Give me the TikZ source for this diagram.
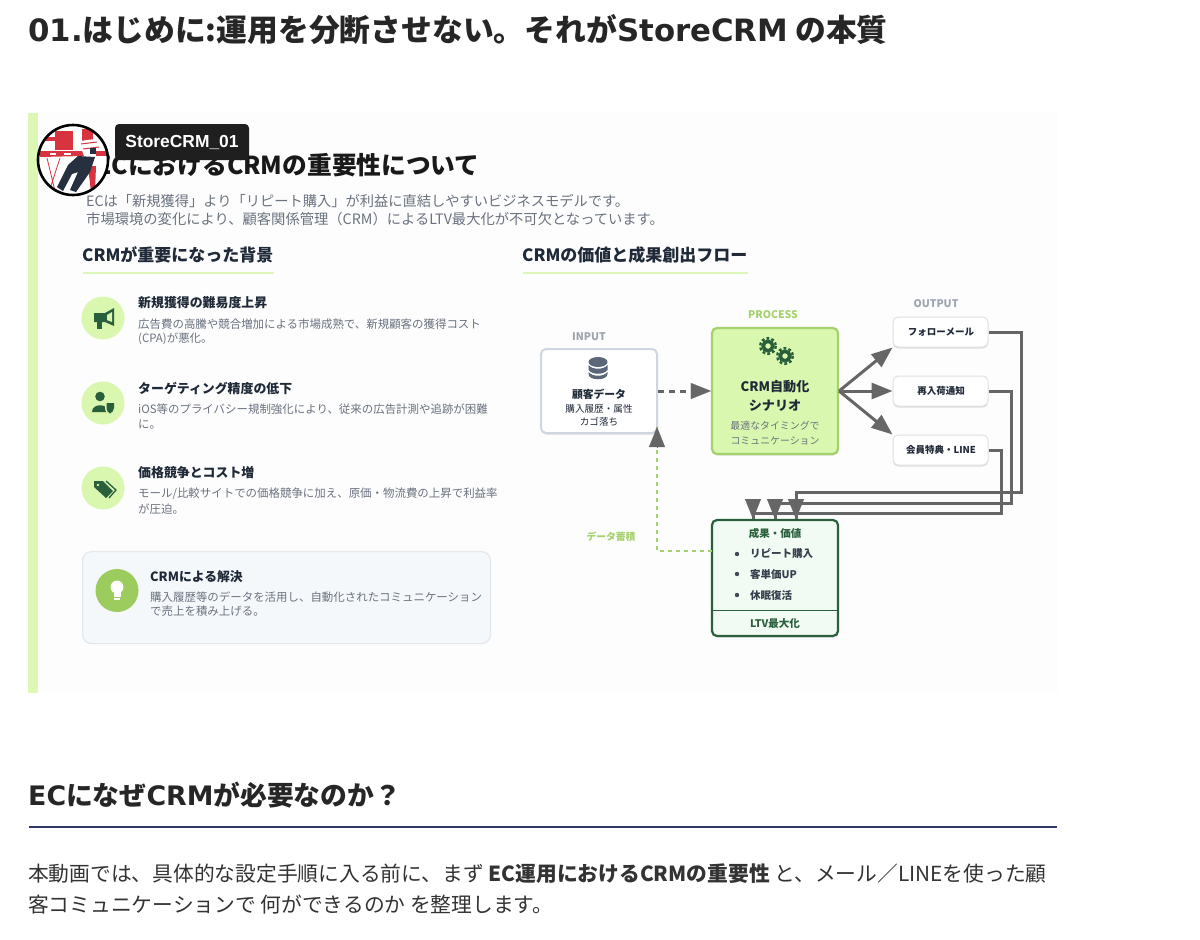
\documentclass[tikz,border=0pt]{standalone}
\usepackage{fontspec}
\setmainfont{Noto Sans CJK JP}
\newfontfamily\dv{DejaVu Sans}
\newfontfamily\ls{Liberation Sans}
\usetikzlibrary{arrows.meta,shadows,calc}
\definecolor{lime}{HTML}{DDF7B4}
\definecolor{limeb}{HTML}{A5D16C}
\definecolor{limef}{HTML}{D9F7AE}
\definecolor{dgreen}{HTML}{2A5F3C}
\definecolor{ink}{HTML}{1F2937}
\definecolor{mut}{HTML}{6B7280}
\definecolor{lab}{HTML}{9CA3AF}
\definecolor{conn}{HTML}{666666}
\definecolor{navy}{HTML}{2D3768}
\definecolor{avred}{HTML}{D8343F}
\definecolor{avdark}{HTML}{27303F}
\definecolor{slate}{HTML}{5B6678}
\definecolor{inb}{HTML}{CFD6E0}
\definecolor{solf}{HTML}{F5F8FA}
\definecolor{solb}{HTML}{E3E8EC}
\definecolor{resf}{HTML}{F1FBF3}
\definecolor{panelf}{HTML}{FCFDFC}
\definecolor{bulbf}{HTML}{9CCB5E}
\tikzset{
 txt/.style={inner sep=0pt,anchor=west,text=#1},
 txt/.default=ink,
 ctr/.style={inner sep=0pt,anchor=center,text=#1,align=center},
 ctr/.default=ink,
 iconc/.style={circle,fill=limef,minimum size=43pt,inner sep=0pt},
 softsh/.style={drop shadow={shadow xshift=0pt,shadow yshift=-1.5pt,opacity=0.12,fill=black}},
 flowbox/.style={rectangle,rounded corners=5pt,inner sep=0pt,softsh},
 outbox/.style={flowbox,draw=black!12,line width=1pt,fill=white,minimum width=95pt,minimum height=30pt},
 flow/.style={draw=conn,line width=3pt,-{Triangle[length=21pt,width=16pt]}},
 head/.style={conn,-{Triangle[length=20pt,width=16pt]},line width=.1pt},
 wire/.style={conn,line width=3pt},
 ul/.style={draw=lime,line width=2.4pt},
}
\begin{document}
\begin{tikzpicture}[x=1pt,y=-1pt]
\useasboundingbox (0,0) rectangle (1200,940);
\fill[white] (0,0) rectangle (1200,940);
% ---- page headings
\node[txt=black!85,font=\bfseries\fontsize{30.8}{33}\selectfont] (h1) at (28,30) {{\dv 01.}はじめに:運用を分断させない。それが{\dv StoreCRM} の本質};
\node[fill=panelf,minimum width=1030pt,minimum height=580pt,inner sep=0pt,anchor=north west] (panel) at (28,113) {};
\node[fill=lime,minimum width=10pt,minimum height=580pt,inner sep=0pt,anchor=north west] (strip) at (28,113) {};
% ---- slide title
\node[txt=black!90,font=\bfseries\fontsize{24.7}{30}\selectfont] (title) at (96,165) {ECにおけるCRMの重要性について};
\node[txt=mut,font=\fontsize{14.25}{16}\selectfont] (s1) at (86,201) {ECは「新規獲得」より「リピート購入」が利益に直結しやすいビジネスモデルです。};
\node[txt=mut,font=\fontsize{14.3}{16}\selectfont] (s2) at (86,219) {市場環境の変化により、顧客関係管理（CRM）によるLTV最大化が不可欠となっています。};
% ---- avatar
\begin{scope}
\clip (73,160) circle (35);
\fill[white] (73,160) circle (35);
\fill[avred] (55,131) rectangle (73,150);
\fill[avred] (44,137) rectangle (55,141);
\fill[avred] (40,151) -- (82,151) -- (84,156) -- (40,157) -- cycle;
\fill[white] (50,152.5) rectangle (56,155);\fill[white] (64,152.5) rectangle (71,155);
\fill[avred] (82,129) rectangle (93,141);
\fill[white] (80,141) -- (95,139) -- (100,153) -- (84,155) -- cycle;
\draw[avred,line width=1pt] (81,144) -- (97,142) (83,149) -- (99,147);
\fill[avdark] (90,148) rectangle (96,154);
\fill[avred] (96,151) rectangle (110,156);
\draw[avred,line width=.8pt] (47,158) -- (56,195) (60,158) -- (48,195);
\fill[avred] (88,166) -- (96,166) -- (95,192) -- (91,192) -- cycle;
\fill[avdark] (78,156) -- (95,157) -- (90,172) -- (76,192) -- (70,190) -- (78,172) -- (72,174) -- (63,191) -- (57,187) -- (68,165) -- cycle;
\end{scope}
\node[circle,draw=black,line width=2.6pt,minimum size=70pt,inner sep=0pt] (avatar) at (73,160) {};
\node[rectangle,rounded corners=4pt,fill=black!88,minimum width=134pt,minimum height=36pt,inner sep=0pt,text=white,font=\ls\bfseries\fontsize{17.4}{18}\selectfont] (tag) at (182,142) {StoreCRM\_01};
% ---- section heads
\node[txt,font=\bfseries\fontsize{17}{20}\selectfont] (sa) at (82,255) {CRMが重要になった背景};
\node[inner sep=0pt] (ula) at (82,273) {};\node[inner sep=0pt] (ulb) at (275,273) {};
\draw[ul] (ula) -- (ulb);
\node[txt,font=\bfseries\fontsize{17}{20}\selectfont] (sb) at (522,255) {CRMの価値と成果創出フロー};
\node[inner sep=0pt] (ulc) at (522,273) {};\node[inner sep=0pt] (uld) at (749,273) {};
\draw[ul] (ulc) -- (uld);
% ---- left items
\node[iconc] (i1) at (103,318) {};
\node[iconc] (i2) at (103,403) {};
\node[iconc] (i3) at (103,488) {};
\node[txt,font=\bfseries\fontsize{12.9}{14}\selectfont] (t1) at (138,303) {新規獲得の難易度上昇};
\node[txt=mut,font=\fontsize{11.45}{14}\selectfont] (d1a) at (138,324) {広告費の高騰や競合増加による市場成熟で、新規顧客の獲得コスト};
\node[txt=mut,font=\fontsize{11.45}{14}\selectfont] (d1b) at (138,339) {(CPA)が悪化。};
\node[txt,font=\bfseries\fontsize{12.9}{14}\selectfont] (t2) at (138,388) {ターゲティング精度の低下};
\node[txt=mut,font=\fontsize{11.45}{14}\selectfont] (d2a) at (138,409) {iOS等のプライバシー規制強化により、従来の広告計測や追跡が困難};
\node[txt=mut,font=\fontsize{11.45}{14}\selectfont] (d2b) at (138,424) {に。};
\node[txt,font=\bfseries\fontsize{12.9}{14}\selectfont] (t3) at (138,473) {価格競争とコスト増};
\node[txt=mut,font=\fontsize{11.45}{14}\selectfont] (d3a) at (138,494) {モール/比較サイトでの価格競争に加え、原価・物流費の上昇で利益率};
\node[txt=mut,font=\fontsize{11.45}{14}\selectfont] (d3b) at (138,509) {が圧迫。};
% megaphone
\fill[dgreen] (94,313) -- (105,313) -- (114,308) -- (114,326) -- (105,322) -- (94,322) -- cycle;
\fill[dgreen] (97,322) rectangle (102,329);
\fill[limef] (107,315) -- (112,312) -- (112,322) -- (107,320) -- cycle;
% user shield
\fill[dgreen] (100,396.5) circle (4.8);
\fill[dgreen] (92,412) .. controls (92,403) and (108,403) .. (109,412) -- cycle;
\fill[limef] (105,402) -- (115,402) -- (115,408) .. controls (115,412) and (112,414) .. (110,415) .. controls (108,414) and (105,412) .. (105,408) -- cycle;
\fill[dgreen] (106.5,403) -- (114,403) -- (114,408) .. controls (114,411) and (112,412) .. (110,413.5) .. controls (108,412) and (106.5,411) .. (106.5,408) -- cycle;
% tags
\fill[dgreen] (94,481) -- (103,481) -- (113,491) -- (106,498) -- (94,487) -- cycle;
\draw[dgreen,line width=1.3pt] (106,481) -- (116,490) -- (109,498);
\fill[limef] (98,485) circle (1.4);
% ---- solution box
\node[rectangle,rounded corners=9pt,draw=solb,line width=1.2pt,fill=solf,minimum width=408pt,minimum height=92pt,inner sep=0pt,anchor=north west] (sol) at (82,551) {};
\node[circle,fill=bulbf,minimum size=43pt,inner sep=0pt] (bulb) at (117,590.5) {};
\fill[white] (117,587) circle (6.5);
\fill[white] (113.5,591) rectangle (120.5,597);
\fill[white] (114,598) rectangle (120,600);
\node[txt,font=\bfseries\fontsize{12.8}{14}\selectfont] (st) at (150,577) {CRMによる解決};
\node[txt=mut,font=\fontsize{11.45}{14}\selectfont] (sd1) at (150,597) {購入履歴等のデータを活用し、自動化されたコミュニケーション};
\node[txt=mut,font=\fontsize{11.45}{14}\selectfont] (sd2) at (150,611) {で売上を積み上げる。};
% ---- flow boxes
\node[flowbox,draw=inb,line width=2pt,fill=white,minimum width=116pt,minimum height=84pt] (input) at (599,391) {};
\node[flowbox,draw=limeb,line width=2.2pt,fill=limef,minimum width=126pt,minimum height=126pt] (proc) at (775,391) {};
\node[outbox] (o1) at (940.5,332) {};
\node[outbox] (o2) at (940.5,391) {};
\node[outbox] (o3) at (940.5,450) {};
\node[flowbox,draw=dgreen,line width=2.2pt,fill=resf,minimum width=126pt,minimum height=116pt] (res) at (775,578) {};
\node[inner sep=0pt] (dl) at (712,610) {};\node[inner sep=0pt] (dr) at (838,610) {};
\draw[dgreen,line width=1pt] (dl) -- (dr);
% flow labels
\node[ctr=lab,font=\bfseries\fontsize{10.5}{12}\selectfont] (li) at (589,337) {INPUT};
\node[ctr=limeb,font=\bfseries\fontsize{10.5}{12}\selectfont] (lp) at (773,315) {PROCESS};
\node[ctr=lab,font=\bfseries\fontsize{10.5}{12}\selectfont] (lo) at (936,304) {OUTPUT};
% input contents
\fill[slate] (598,362) ellipse (9.5 and 5);
\fill[slate] (588.5,365) -- (588.5,370) .. controls (592,375) and (604,375) .. (607.5,370) -- (607.5,365) .. controls (604,370) and (592,370) .. (588.5,365) -- cycle;
\fill[slate] (588.5,372) -- (588.5,374) .. controls (588.5,381) and (607.5,381) .. (607.5,374) -- (607.5,372) .. controls (604,377) and (592,377) .. (588.5,372) -- cycle;
\node[ctr,font=\bfseries\fontsize{10.8}{13}\selectfont] (it) at (599,394) {顧客データ};
\node[ctr,font=\fontsize{9.6}{12}\selectfont] (id1) at (599,409) {購入履歴・属性};
\node[ctr,font=\fontsize{9.6}{12}\selectfont] (id2) at (599,422) {カゴ落ち};
% gears
\foreach \gx/\gy/\gr in {768/346/6.2,785/356/6.2}{
 \draw[dgreen,line width=2.4pt,dash pattern=on 2.8pt off 2.2pt] (\gx,\gy) circle (\gr+1.6);
 \draw[dgreen,line width=3.6pt] (\gx,\gy) circle (\gr-1.4);
}
\node[ctr,font=\bfseries\fontsize{13.1}{16}\selectfont] (pt1) at (775,387) {CRM自動化};
\node[ctr,font=\bfseries\fontsize{13.1}{16}\selectfont] (pt2) at (775,406) {シナリオ};
\node[ctr=mut,font=\fontsize{9.9}{12}\selectfont] (pd1) at (775,426) {最適なタイミングで};
\node[ctr=mut,font=\fontsize{9.9}{12}\selectfont] (pd2) at (775,441) {コミュニケーション};
% outputs
\node[ctr,font=\bfseries\fontsize{9.5}{12}\selectfont] (ot1) at (941,332) {フォローメール};
\node[ctr,font=\bfseries\fontsize{9.5}{12}\selectfont] (ot2) at (941,391) {再入荷通知};
\node[ctr,font=\bfseries\fontsize{9.5}{12}\selectfont] (ot3) at (941,450) {会員特典・LINE};
% result
\node[ctr=dgreen,font=\bfseries\fontsize{10.5}{12}\selectfont] (rt) at (775,533) {成果・価値};
\foreach \yy/\nm/\tx in {554/r1/リピート購入,574/r2/客単価UP,595/r3/休眠復活}{
 \fill[ink!85] (737,\yy) circle (2.2);
 \node[txt=ink!90,font=\bfseries\fontsize{10.5}{12}\selectfont] (\nm) at (750,\yy) {\tx};
}
\node[ctr=dgreen,font=\bfseries\fontsize{10.5}{12}\selectfont] (rl) at (775,624) {LTV最大化};
% ---- connectors
\coordinate (fb) at (712,551);
\coordinate (fc) at (657,551);
\coordinate (fd) at (657,427);
\draw[draw=limeb,line width=2.5pt,dash pattern=on 4pt off 4pt] (fb) -- (fc) -- (fd);
\node[ctr=limeb,font=\bfseries\fontsize{9.8}{12}\selectfont] (fl) at (611,537) {データ蓄積};
\coordinate (fe) at (657,447);
\draw[head] (fe) -- (fd);
\coordinate (ia) at (692,391);
\draw[wire,dash pattern=on 6pt off 5pt] (input.east) -- (ia);
\draw[head] (ia) -- (proc.west);
\draw[flow] (proc.east) -- (o1.south west);
\draw[flow] (proc.east) -- (o2.west);
\draw[flow] (proc.east) -- (o3.north west);
\coordinate (a1) at (1021,332);\coordinate (a2) at (1021,492);\coordinate (a3) at (796,492);\coordinate (a4) at (796,519);
\coordinate (b1) at (1011,391);\coordinate (b2) at (1011,503);\coordinate (b3) at (775,503);\coordinate (b4) at (775,519);
\coordinate (c1) at (1001,450);\coordinate (c2) at (1001,513);\coordinate (c3) at (753,513);\coordinate (c4) at (753,519);
\draw[wire] (o1.east) -- (a1) -- (a2) -- (a3) -- (a4);
\draw[wire] (o2.east) -- (b1) -- (b2) -- (b3) -- (b4);
\draw[wire] (o3.east) -- (c1) -- (c2) -- (c3) -- (c4);
\coordinate (a0) at (796,499);\coordinate (b0) at (775,499);\coordinate (c0) at (753,499);
\draw[head] (a0) -- (a4);
\draw[head] (b0) -- (b4);
\draw[head] (c0) -- (c4);
% ---- lower page
\node[txt=black!85,font=\bfseries\fontsize{26.8}{30}\selectfont] (h2) at (28,795) {{\dv EC}になぜ{\dv CRM}が必要なのか？};
\node[inner sep=0pt] (ra) at (28,827) {};\node[inner sep=0pt] (rb) at (1058,827) {};
\draw[navy,line width=2pt] (ra) -- (rb);
\node[txt=black!80,font=\fontsize{20.75}{24}\selectfont] (b1n) at (28,874) {本動画では、具体的な設定手順に入る前に、まず \textbf{EC運用におけるCRMの重要性} と、メール／LINEを使った顧};
\node[txt=black!80,font=\fontsize{20.75}{24}\selectfont] (b2n) at (28,905) {客コミュニケーションで 何ができるのか を整理します。};
\end{tikzpicture}
\end{document}
